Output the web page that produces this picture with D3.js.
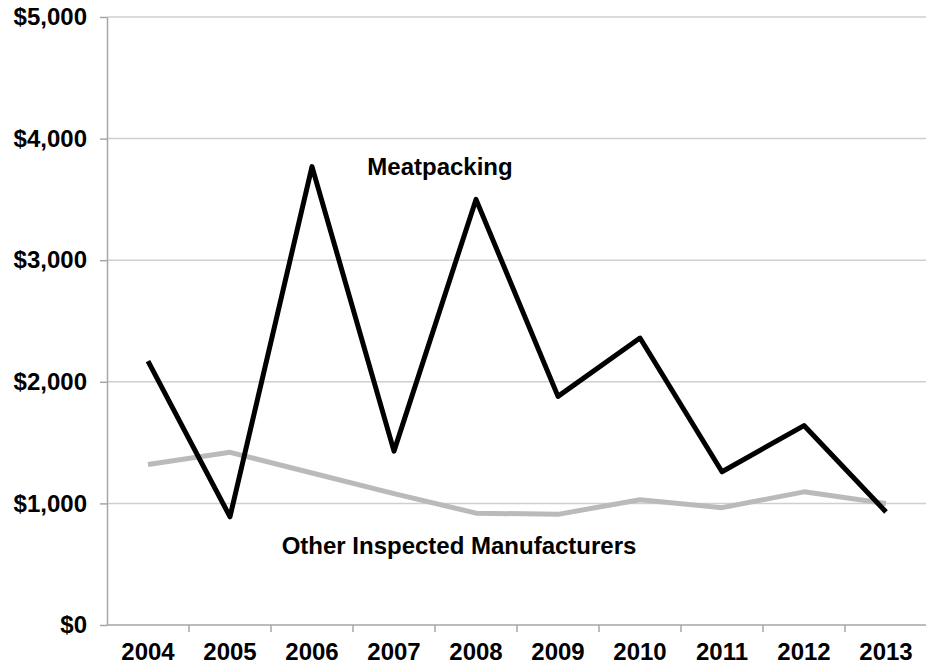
<!DOCTYPE html>
<html>
<head>
<meta charset="utf-8">
<script src="https://cdn.jsdelivr.net/npm/d3@7"></script>
<style>
  html, body { margin: 0; padding: 0; background: #fff; }
  svg { display: block; font-family: "Liberation Sans", Arial, sans-serif; }
</style>
</head>
<body>
<svg id="chart" width="926" height="666"></svg>
<script>
// Years on the category axis
const years = ["2004", "2005", "2006", "2007", "2008", "2009", "2010", "2011", "2012", "2013"];
// Meatpacking values (dollars)
const meatpacking = [2170, 890, 3770, 1430, 3500, 1880, 2360, 1260, 1640, 930];
// Other inspected manufacturers values (dollars)
const otherManufacturers = [1320, 1420, 1250, 1080, 920, 910, 1030, 965, 1095, 1000];
// Value-axis ticks
const yTicks = [0, 1000, 2000, 3000, 4000, 5000];

const svg = d3.select("#chart");
const plotLeft = 107, plotRight = 927, plotTop = 17, plotBottom = 625;
const fontSize = 24;

const x = d3.scaleBand().domain(years).range([plotLeft, plotRight]).padding(0);
const y = d3.scaleLinear().domain([0, 5000]).range([plotBottom, plotTop]);
const fmt = v => "$" + d3.format(",")(v);

// Horizontal gridlines
svg.append("g")
  .selectAll("line")
  .data(yTicks.filter(d => d > 0))
  .join("line")
  .attr("x1", plotLeft).attr("x2", plotRight)
  .attr("y1", d => y(d)).attr("y2", d => y(d))
  .attr("stroke", "#cfcfcf").attr("stroke-width", 1.5);

// Value axis
const yAxis = svg.append("g")
  .attr("transform", `translate(${plotLeft},0)`)
  .call(d3.axisLeft(y).tickValues(yTicks).tickFormat(fmt).tickSizeInner(7).tickSizeOuter(0).tickPadding(13));
yAxis.select(".domain").attr("stroke", "#a6a6a6").attr("stroke-width", 1.5);
yAxis.selectAll(".tick line").attr("stroke", "#a6a6a6").attr("stroke-width", 1.5);
yAxis.selectAll(".tick text")
  .attr("font-size", fontSize).attr("font-weight", "bold").attr("fill", "#000")
  .attr("font-family", "Liberation Sans, Arial, sans-serif");

// Category axis with tick marks on band boundaries
const xAxisG = svg.append("g").attr("transform", `translate(0,${plotBottom})`);
xAxisG.append("line")
  .attr("x1", plotLeft).attr("x2", plotRight).attr("y1", 0).attr("y2", 0)
  .attr("stroke", "#a6a6a6").attr("stroke-width", 1.5);
xAxisG.selectAll("line.tk")
  .data(years.slice(1))
  .join("line")
  .attr("class", "tk")
  .attr("x1", d => x(d)).attr("x2", d => x(d))
  .attr("y1", 0).attr("y2", 7)
  .attr("stroke", "#a6a6a6").attr("stroke-width", 1.5);
xAxisG.selectAll("text")
  .data(years)
  .join("text")
  .attr("x", d => x(d) + x.bandwidth() / 2)
  .attr("y", 35)
  .attr("text-anchor", "middle")
  .attr("font-size", fontSize).attr("font-weight", "bold").attr("fill", "#000")
  .text(d => d);

const line = d3.line()
  .x((d, i) => x(years[i]) + x.bandwidth() / 2)
  .y(d => y(d))
  .curve(d3.curveLinear);

// Other inspected manufacturers series
svg.append("path")
  .datum(otherManufacturers)
  .attr("d", line)
  .attr("fill", "none")
  .attr("stroke", "#bababa")
  .attr("stroke-width", 5)
  .attr("stroke-linejoin", "round");

// Meatpacking series
svg.append("path")
  .datum(meatpacking)
  .attr("d", line)
  .attr("fill", "none")
  .attr("stroke", "#000")
  .attr("stroke-width", 5)
  .attr("stroke-linejoin", "round");

// Series labels
svg.append("text")
  .attr("x", 440).attr("y", 175)
  .attr("text-anchor", "middle")
  .attr("font-size", fontSize).attr("font-weight", "bold").attr("fill", "#000")
  .text("Meatpacking");

svg.append("text")
  .attr("x", 459).attr("y", 554)
  .attr("text-anchor", "middle")
  .attr("font-size", fontSize).attr("font-weight", "bold").attr("fill", "#000")
  .text("Other Inspected Manufacturers");
</script>
</body>
</html>
